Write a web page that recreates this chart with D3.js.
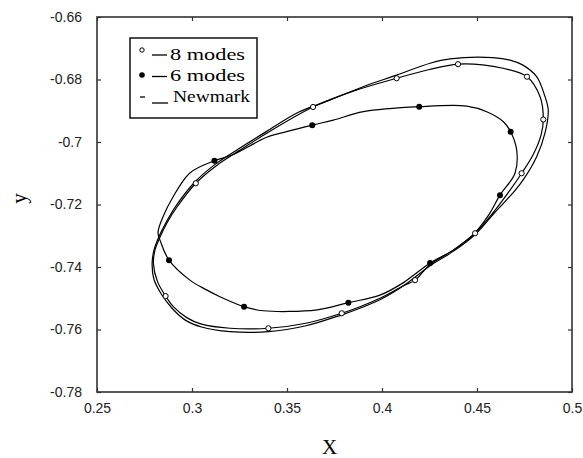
<!DOCTYPE html>
<html>
<head>
<meta charset="utf-8">
<script src="https://cdn.jsdelivr.net/npm/d3@7"></script>
<style>
  body { margin: 0; background: #fff; }
  svg { display: block; }
  .tick text { font-family: "Liberation Sans", Arial, sans-serif; font-size: 14px; fill: #222; }
  .tick line { stroke: #333; stroke-width: 1.2px; }
</style>
</head>
<body>
<script>
(function(){
  //axis ticks
  var xTicks = [0.25, 0.3, 0.35, 0.4, 0.45, 0.5];
  var yTicks = [-0.78, -0.76, -0.74, -0.72, -0.7, -0.68, -0.66];

  //8 modes loop (clockwise from the left side)
  var modes8 = [
    [0.2797,-0.7390],[0.2805,-0.7346],[0.2832,-0.7304],[0.2868,-0.7259],
    [0.2921,-0.7208],[0.3020,-0.7132],[0.3130,-0.7075],[0.3253,-0.7026],[0.3393,-0.6972],
    [0.3637,-0.6888],[0.3860,-0.6835],[0.4077,-0.6796],[0.4250,-0.6768],[0.4400,-0.6751],
    [0.4530,-0.6753],[0.4637,-0.6764],[0.4763,-0.6791],[0.4832,-0.6855],[0.4849,-0.6928],
    [0.4837,-0.6978],[0.4796,-0.7040],[0.4735,-0.7100],[0.4674,-0.7154],[0.4586,-0.7225],
    [0.4490,-0.7292],[0.4375,-0.7346],[0.4253,-0.7392],[0.4174,-0.7442],[0.4113,-0.7460],
    [0.3989,-0.7500],[0.3884,-0.7527],[0.3788,-0.7548],[0.3600,-0.7580],[0.3402,-0.7596],
    [0.3200,-0.7596],[0.3050,-0.7583],[0.2972,-0.7562],[0.2902,-0.7527],[0.2861,-0.7493],
    [0.2818,-0.7446]
  ];
  var modes8Marks = [
    [0.3020,-0.7132],[0.3637,-0.6888],[0.4077,-0.6796],[0.4400,-0.6751],[0.4763,-0.6791],
    [0.4849,-0.6928],[0.4735,-0.7100],[0.4490,-0.7292],[0.4174,-0.7442],[0.3788,-0.7548],
    [0.3402,-0.7596],[0.2861,-0.7493]
  ];

  //6 modes loop
  var modes6 = [
    [0.2879,-0.7378],[0.2834,-0.7318],[0.2821,-0.7290],[0.2847,-0.7240],[0.2900,-0.7176],
    [0.2989,-0.7099],[0.3118,-0.7060],[0.3218,-0.7040],[0.3393,-0.6985],[0.3498,-0.6967],
    [0.3633,-0.6946],[0.3744,-0.6930],[0.3902,-0.6903],[0.4196,-0.6887],[0.4446,-0.6885],
    [0.4551,-0.6903],[0.4639,-0.6935],[0.4677,-0.6967],[0.4709,-0.7026],[0.4700,-0.7100],
    [0.4621,-0.7170],[0.4560,-0.7235],[0.4490,-0.7290],[0.4375,-0.7346],[0.4253,-0.7387],
    [0.4113,-0.7450],[0.3989,-0.7490],[0.3823,-0.7514],[0.3658,-0.7537],[0.3374,-0.7540],
    [0.3274,-0.7527],[0.3147,-0.7495],[0.3079,-0.7474],[0.2989,-0.7442]
  ];
  var modes6Marks = [
    [0.2879,-0.7378],[0.3118,-0.7060],[0.3633,-0.6946],[0.4196,-0.6887],[0.4677,-0.6967],
    [0.4621,-0.7170],[0.4253,-0.7387],[0.3823,-0.7514],[0.3274,-0.7527]
  ];

  //Newmark loop
  var newmark = [
    [0.2790,-0.7390],[0.2800,-0.7346],[0.2828,-0.7300],[0.2862,-0.7259],
    [0.2915,-0.7205],[0.3015,-0.7128],[0.3125,-0.7070],[0.3250,-0.7020],[0.3393,-0.6966],
    [0.3560,-0.6905],[0.3726,-0.6866],[0.3900,-0.6823],[0.4077,-0.6786],[0.4253,-0.6748],
    [0.4358,-0.6734],[0.4584,-0.6730],[0.4674,-0.6738],[0.4742,-0.6754],[0.4814,-0.6791],
    [0.4858,-0.6855],[0.4875,-0.6898],[0.4858,-0.6971],[0.4814,-0.7047],[0.4742,-0.7122],
    [0.4689,-0.7163],[0.4590,-0.7228],[0.4490,-0.7296],[0.4375,-0.7350],[0.4253,-0.7396],
    [0.4113,-0.7460],[0.3989,-0.7505],[0.3884,-0.7532],[0.3788,-0.7553],[0.3600,-0.7588],
    [0.3402,-0.7607],[0.3200,-0.7607],[0.3050,-0.7592],[0.2965,-0.7570],[0.2895,-0.7532],
    [0.2840,-0.7488],[0.2800,-0.7440]
  ];

  var legendLabels = ["8 modes", "6 modes", "Newmark"];

  //frame dimensions
  var width = 583, height = 458,
      left = 97, right = 572, top = 17, bottom = 392;

  var x = d3.scaleLinear().domain([0.25, 0.5]).range([left, right]);
  var y = d3.scaleLinear().domain([-0.78, -0.66]).range([bottom, top]);

  var fmt = function(d){ return String(+d.toFixed(2)); };

  var svg = d3.select("body").append("svg")
      .attr("width", width)
      .attr("height", height);

  //axes with inward ticks on all four sides
  svg.append("g").attr("transform", "translate(0," + bottom + ")")
      .call(d3.axisBottom(x).tickValues(xTicks).tickFormat(fmt).tickSizeInner(-4).tickSizeOuter(0).tickPadding(11));
  svg.append("g").attr("transform", "translate(0," + top + ")")
      .call(d3.axisTop(x).tickValues(xTicks).tickFormat("").tickSizeInner(-4).tickSizeOuter(0));
  svg.append("g").attr("transform", "translate(" + left + ",0)")
      .call(d3.axisLeft(y).tickValues(yTicks).tickFormat(fmt).tickSizeInner(-4).tickSizeOuter(0).tickPadding(15));
  svg.append("g").attr("transform", "translate(" + right + ",0)")
      .call(d3.axisRight(y).tickValues(yTicks).tickFormat("").tickSizeInner(-4).tickSizeOuter(0));
  svg.selectAll(".domain").remove();

  //frame
  svg.append("rect")
      .attr("x", left).attr("y", top)
      .attr("width", right - left).attr("height", bottom - top)
      .attr("fill", "none").attr("stroke", "#333").attr("stroke-width", 1.6);

  //loops
  var line = d3.line()
      .x(function(d){ return x(d[0]); })
      .y(function(d){ return y(d[1]); })
      .curve(d3.curveCatmullRomClosed.alpha(0.5));

  [newmark, modes8, modes6].forEach(function(s){
    svg.append("path")
        .attr("d", line(s))
        .attr("fill", "none")
        .attr("stroke", "#000")
        .attr("stroke-width", 1.2);
  });

  svg.selectAll(".m8").data(modes8Marks).enter().append("circle")
      .attr("class", "m8")
      .attr("cx", function(d){ return x(d[0]); })
      .attr("cy", function(d){ return y(d[1]); })
      .attr("r", 2.6)
      .attr("fill", "#fff").attr("stroke", "#000").attr("stroke-width", 1);

  svg.selectAll(".m6").data(modes6Marks).enter().append("circle")
      .attr("class", "m6")
      .attr("cx", function(d){ return x(d[0]); })
      .attr("cy", function(d){ return y(d[1]); })
      .attr("r", 3)
      .attr("fill", "#000");

  //legend
  var legend = svg.append("g");
  legend.append("rect")
      .attr("x", 130).attr("y", 38).attr("width", 127).attr("height", 80)
      .attr("fill", "#fff").attr("stroke", "#111").attr("stroke-width", 1.5);

  legend.append("circle").attr("cx", 142).attr("cy", 50).attr("r", 2.2)
      .attr("fill", "#fff").attr("stroke", "#000").attr("stroke-width", 1);
  legend.append("circle").attr("cx", 142).attr("cy", 75).attr("r", 2.8).attr("fill", "#000");
  legend.append("line").attr("x1", 140).attr("x2", 145).attr("y1", 97).attr("y2", 97)
      .attr("stroke", "#000").attr("stroke-width", 1.3);

  [[55, 152, 167], [76.5, 152, 167], [103, 152, 168]].forEach(function(r){
    legend.append("line").attr("x1", r[1]).attr("x2", r[2]).attr("y1", r[0]).attr("y2", r[0])
        .attr("stroke", "#000").attr("stroke-width", 1.3);
  });

  var rows = [[170, 60, 75], [170, 81, 75], [173, 102, 77]];
  legendLabels.forEach(function(t, i){
    legend.append("text")
        .attr("x", rows[i][0]).attr("y", rows[i][1])
        .attr("textLength", rows[i][2]).attr("lengthAdjust", "spacingAndGlyphs")
        .style("font-family", "'Liberation Serif', serif")
        .style("font-size", "17px")
        .attr("fill", "#000")
        .text(t);
  });

  //axis titles
  svg.append("text")
      .attr("x", (left + right) / 2 - 5).attr("y", 454)
      .attr("text-anchor", "middle")
      .style("font-family", "'Liberation Serif', serif").style("font-size", "21px")
      .text("X");
  svg.append("text")
      .attr("transform", "translate(26," + ((top + bottom) / 2 - 6) + ") rotate(-90)")
      .attr("text-anchor", "middle")
      .style("font-family", "'Liberation Serif', serif").style("font-size", "21px")
      .text("y");
})();
</script>
</body>
</html>
